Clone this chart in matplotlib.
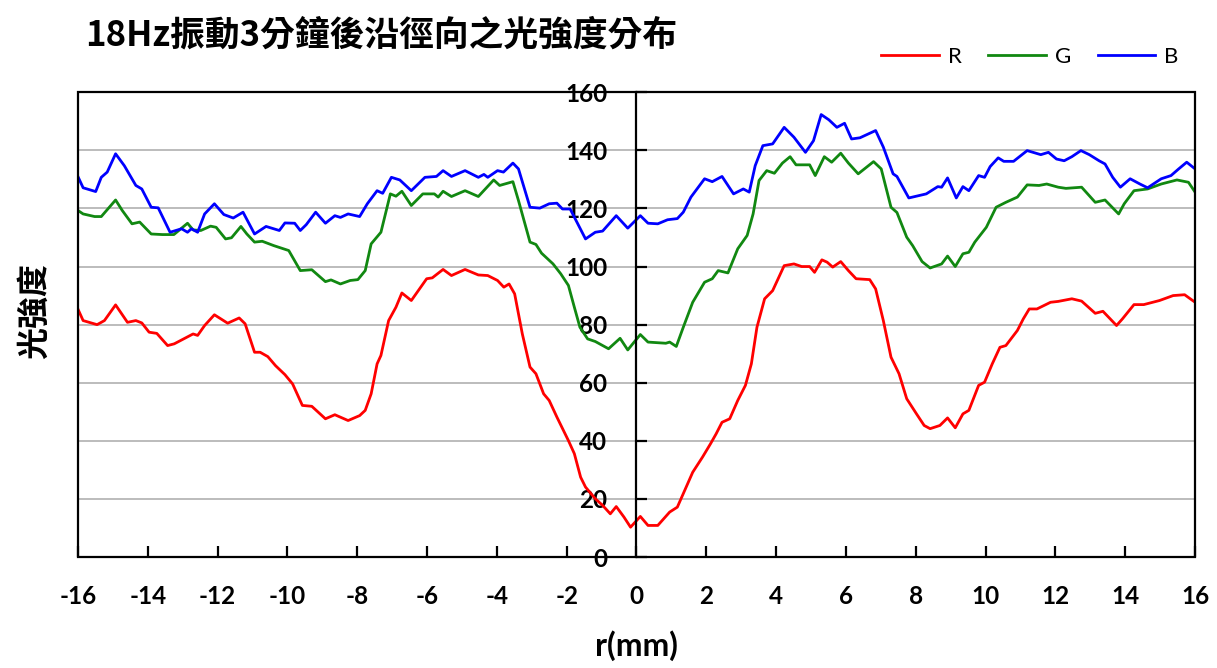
import matplotlib
matplotlib.use('Agg')
import matplotlib.pyplot as plt
from matplotlib.patches import Rectangle

plt.rcParams['font.family'] = ['Lato', 'Noto Sans CJK TC', 'DejaVu Sans']

# radial position (mm) and intensity for each channel
r_x = [-16, -15.85, -15.45, -15.24, -14.92, -14.58, -14.34, -14.17, -13.96, -13.74,
       -13.43, -13.24, -12.7, -12.57, -12.37, -12.09, -11.71, -11.38, -11.21, -10.94,
       -10.78, -10.56, -10.34, -10.07, -9.85, -9.57, -9.3, -8.91, -8.64, -8.26,
       -7.93, -7.77, -7.6, -7.43, -7.32, -7.1, -6.89, -6.72, -6.45, -6.01,
       -5.85, -5.54, -5.3, -4.91, -4.53, -4.26, -3.98, -3.8, -3.65, -3.49,
       -3.27, -3.05, -2.88, -2.66, -2.5, -2.28, -1.95, -1.78, -1.6, -1.46,
       -1.18, -0.97, -0.75, -0.58, -0.36, -0.17, 0.11, 0.33, 0.61, 0.95,
       1.17, 1.34, 1.61, 1.89, 2.12, 2.28, 2.45, 2.67, 2.9, 3.12,
       3.29, 3.45, 3.67, 3.9, 4.23, 4.51, 4.73, 4.96, 5.1, 5.31,
       5.46, 5.62, 5.85, 6.07, 6.29, 6.68, 6.85, 7.07, 7.29, 7.52,
       7.74, 8.02, 8.24, 8.41, 8.69, 8.91, 9.13, 9.35, 9.52, 9.8,
       9.97, 10.19, 10.41, 10.58, 10.91, 11.08, 11.25, 11.47, 11.86, 12.08,
       12.47, 12.75, 13.14, 13.36, 13.75, 13.92, 14.25, 14.53, 14.98, 15.37,
       15.7, 16]
r_vals = [85.4, 81.4, 80.0, 81.4, 86.8, 80.8, 81.4, 80.6, 77.4, 77.0,
          72.8, 73.4, 76.8, 76.3, 79.7, 83.4, 80.5, 82.3, 80.3, 70.5,
          70.5, 69.0, 65.9, 62.8, 59.6, 52.2, 51.9, 47.6, 49.0, 47.0,
          48.7, 50.5, 56.2, 66.5, 69.4, 81.4, 86.0, 90.9, 88.3, 95.8,
          96.1, 99.0, 96.9, 99.0, 97.1, 96.9, 95.2, 92.9, 94.0, 90.6,
          76.8, 65.4, 63.1, 56.2, 53.9, 48.2, 40.1, 35.6, 27.5, 24.1,
          20.1, 17.8, 14.9, 17.4, 13.8, 10.3, 14.0, 10.9, 10.9, 15.5,
          17.2, 21.8, 29.2, 34.4, 39.0, 42.4, 46.4, 47.6, 53.9, 59.1,
          66.5, 79.1, 88.9, 91.7, 100.3, 100.9, 100.0, 100.0, 98.0, 102.3,
          101.5, 99.8, 101.7, 98.6, 95.8, 95.5, 92.3, 81.4, 68.8, 63.1,
          54.5, 49.3, 45.3, 44.2, 45.3, 47.9, 44.5, 49.3, 50.5, 59.1,
          60.2, 66.5, 72.2, 72.8, 78.0, 82.0, 85.4, 85.4, 87.7, 88.0,
          88.9, 88.1, 83.9, 84.6, 79.7, 82.0, 86.9, 86.9, 88.3, 90.0,
          90.3, 87.7]

g_x = [-16, -15.85, -15.52, -15.33, -14.92, -14.73, -14.45, -14.23, -13.9, -13.58,
       -13.25, -12.86, -12.7, -12.48, -12.2, -12.04, -11.77, -11.6, -11.33, -11.16,
       -10.94, -10.72, -10.39, -9.96, -9.63, -9.3, -8.91, -8.75, -8.48, -8.2,
       -7.98, -7.77, -7.6, -7.32, -7.05, -6.89, -6.72, -6.45, -6.12, -5.79,
       -5.68, -5.54, -5.3, -4.91, -4.53, -4.09, -3.92, -3.54, -3.38, -3.05,
       -2.88, -2.72, -2.39, -2.17, -1.95, -1.78, -1.62, -1.4, -1.18, -0.8,
       -0.47, -0.25, 0.11, 0.33, 0.84, 0.95, 1.14, 1.34, 1.61, 1.95,
       2.17, 2.34, 2.62, 2.9, 3.17, 3.34, 3.51, 3.73, 3.95, 4.18,
       4.4, 4.57, 4.96, 5.12, 5.38, 5.59, 5.85, 6.07, 6.35, 6.79,
       7.01, 7.29, 7.46, 7.74, 7.91, 8.18, 8.41, 8.74, 8.91, 9.13,
       9.35, 9.52, 9.69, 10.02, 10.3, 10.58, 10.91, 11.19, 11.53, 11.75,
       12.08, 12.3, 12.75, 13.14, 13.42, 13.81, 13.97, 14.25, 14.64, 15.03,
       15.48, 15.81, 16]
g_vals = [119.3, 118.1, 117.2, 117.2, 122.9, 119.3, 114.7, 115.3, 111.2, 111.0,
          111.0, 114.9, 112.6, 112.4, 113.9, 113.5, 109.5, 109.9, 113.8, 111.2,
          108.4, 108.7, 107.2, 105.5, 98.6, 98.9, 94.8, 95.4, 94.0, 95.2,
          95.5, 98.6, 107.8, 111.8, 125.0, 124.2, 125.9, 121.0, 125.0, 125.0,
          123.9, 125.9, 124.1, 126.1, 124.1, 129.8, 127.9, 129.2, 122.7, 108.4,
          107.6, 104.6, 100.9, 97.5, 93.5, 86.0, 79.1, 75.1, 74.2, 71.7,
          75.3, 71.3, 76.6, 74.0, 73.6, 74.0, 72.5, 79.1, 87.7, 94.6,
          95.8, 98.6, 97.8, 106.1, 110.7, 118.1, 129.6, 133.0, 132.1, 135.6,
          137.8, 135.0, 135.0, 131.3, 137.8, 135.9, 139.0, 135.6, 131.9, 136.1,
          133.6, 120.4, 118.6, 110.1, 107.2, 101.7, 99.5, 100.9, 103.6, 100.0,
          104.4, 104.9, 108.4, 113.5, 120.4, 122.1, 123.9, 128.1, 127.9, 128.4,
          127.3, 126.9, 127.3, 122.1, 122.9, 118.1, 121.6, 126.1, 126.7, 128.4,
          129.8, 129.0, 125.6]

b_x = [-16, -15.85, -15.49, -15.33, -15.16, -14.92, -14.67, -14.34, -14.17, -13.9,
       -13.7, -13.36, -13.03, -12.86, -12.75, -12.57, -12.37, -12.09, -11.82, -11.55,
       -11.27, -10.94, -10.61, -10.39, -10.23, -10.07, -9.79, -9.63, -9.46, -9.19,
       -8.91, -8.64, -8.48, -8.26, -7.93, -7.71, -7.43, -7.27, -7.02, -6.78,
       -6.45, -6.06, -5.73, -5.54, -5.3, -4.91, -4.53, -4.37, -4.26, -3.98,
       -3.81, -3.54, -3.38, -3.05, -2.77, -2.5, -2.28, -2.12, -1.9, -1.73,
       -1.46, -1.18, -0.97, -0.58, -0.25, 0.11, 0.33, 0.61, 0.89, 1.17,
       1.34, 1.56, 1.95, 2.17, 2.45, 2.78, 3.06, 3.23, 3.4, 3.62,
       3.9, 4.23, 4.51, 4.84, 5.07, 5.29, 5.51, 5.74, 5.96, 6.16,
       6.4, 6.85, 7.07, 7.35, 7.46, 7.8, 8.3, 8.63, 8.74, 8.91,
       9.16, 9.35, 9.52, 9.8, 9.97, 10.13, 10.36, 10.52, 10.8, 11.19,
       11.58, 11.8, 12.03, 12.25, 12.47, 12.73, 12.97, 13.25, 13.42, 13.64,
       13.86, 14.14, 14.42, 14.64, 15.03, 15.31, 15.53, 15.76, 16]
b_vals = [131.0, 127.1, 125.8, 130.7, 132.5, 138.8, 134.7, 127.9, 126.7, 120.4,
          120.2, 111.8, 113.0, 111.8, 113.0, 111.8, 118.1, 121.6, 117.9, 116.7,
          118.7, 111.2, 113.8, 113.0, 112.4, 115.0, 114.9, 112.4, 114.4, 118.7,
          114.9, 117.5, 116.9, 118.1, 117.2, 121.6, 126.1, 125.2, 130.7, 129.8,
          126.1, 130.7, 131.0, 133.0, 131.0, 133.0, 130.7, 131.7, 130.7, 133.0,
          132.5, 135.6, 133.6, 120.4, 120.1, 121.6, 121.8, 119.8, 119.8, 115.8,
          109.5, 111.8, 112.2, 117.5, 113.2, 117.5, 114.9, 114.7, 116.1, 116.5,
          118.7, 123.9, 130.2, 129.2, 131.0, 125.0, 126.7, 125.6, 134.7, 141.6,
          142.2, 147.9, 144.5, 139.3, 143.3, 152.3, 150.5, 147.9, 149.3, 143.9,
          144.3, 146.8, 141.1, 131.9, 131.0, 123.6, 125.0, 127.5, 127.3, 130.5,
          123.6, 127.5, 126.1, 131.3, 130.7, 134.4, 137.4, 136.2, 136.2, 139.9,
          138.5, 139.3, 137.0, 136.4, 137.8, 139.9, 138.5, 136.4, 135.3, 130.7,
          127.3, 130.2, 128.4, 127.1, 130.2, 131.3, 133.6, 135.9, 133.6]

x_ticks = list(range(-16, 17, 2))
y_ticks = list(range(0, 161, 20))

fig = plt.figure(figsize=(12.17, 6.68), dpi=100)
ax = fig.add_axes([0.064, 0.166, 0.918, 0.696])

# y axis sits at r = 0 (set before tick styling, set_position resets ticks)
ax.spines['left'].set_position(('data', 0))
for s in ['top', 'right', 'bottom']:
    ax.spines[s].set_visible(False)
ax.spines['left'].set_linewidth(1.6)
ax.add_patch(Rectangle((0, 0), 1, 1, transform=ax.transAxes, fill=False,
                       lw=1.6, edgecolor='black', clip_on=False, zorder=5))

ax.plot(r_x, r_vals, color='#ff0000', lw=2, label='R')
ax.plot(g_x, g_vals, color='#118811', lw=2, label='G')
ax.plot(b_x, b_vals, color='#0000ff', lw=2, label='B')

ax.set_xlim(-16, 16)
ax.set_ylim(0, 160)
ax.set_xticks(x_ticks)
ax.set_yticks(y_ticks)
ax.set_xticklabels([str(t) for t in x_ticks])
ax.set_yticklabels([str(t) for t in y_ticks])
for lab in ax.get_xticklabels() + ax.get_yticklabels():
    lab.set_fontweight('bold')
ax.tick_params(axis='both', labelsize=17.5)
ax.tick_params(axis='y', direction='in', length=8, width=1.6, pad=21)
ax.tick_params(axis='x', direction='in', length=8, width=1.6, pad=20)
ax.grid(axis='y', color='#b0b0b0', lw=1.2)
ax.set_axisbelow(True)

ax.set_xlabel('r(mm)', fontsize=23, fontweight='bold', labelpad=16)
fig.text(0.029, 0.535, '光強度', rotation=90, fontsize=23, fontweight='bold',
         ha='center', va='center', family=['Noto Sans CJK TC', 'DejaVu Sans'])
fig.text(0.07, 0.947, '18Hz振動3分鐘後沿徑向之光強度分布', fontsize=25,
         fontweight='bold', ha='left', va='center',
         family=['Noto Sans CJK TC', 'DejaVu Sans'])

ax.legend(loc='center right', bbox_to_anchor=(0.985, 0.915),
          bbox_transform=fig.transFigure, ncol=3, frameon=False,
          fontsize=16, handlelength=2.6, columnspacing=1.2, handletextpad=0.4)

fig.savefig('out.png', dpi=100)
